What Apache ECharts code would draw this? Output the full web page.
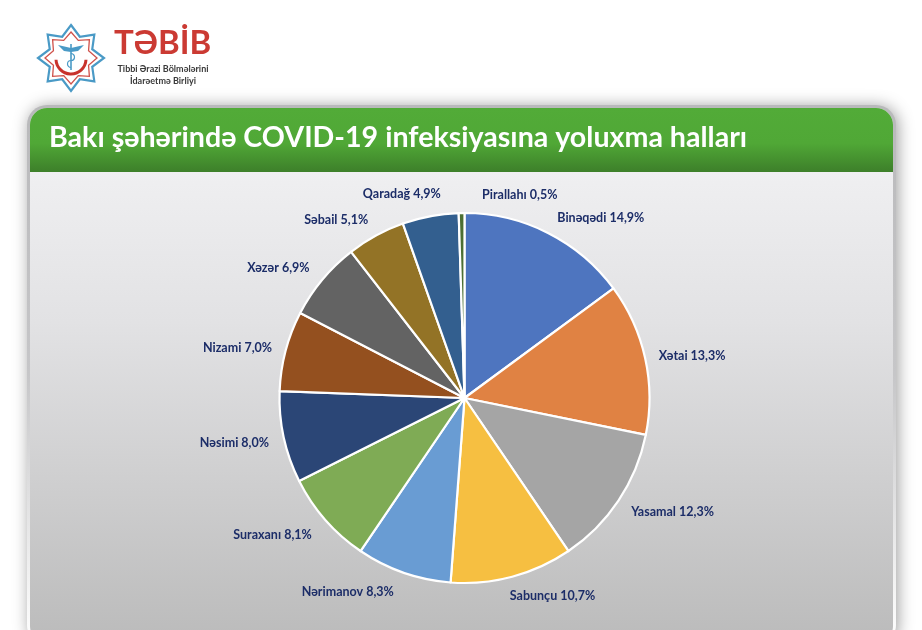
<!DOCTYPE html>
<html>
<head>
<meta charset="utf-8">
<title>Bakı şəhərində COVID-19 infeksiyasına yoluxma halları</title>
<style>html,body{margin:0;padding:0;background:#fff}#chart{width:922px;height:630px}</style>
<script src="https://cdn.jsdelivr.net/npm/echarts@6/dist/echarts.min.js"></script>
</head>
<body>
<div id="chart"></div>
<script>
const districts = ['Binəqədi','Xətai','Yasamal','Sabunçu','Nərimanov','Suraxanı','Nəsimi','Nizami','Xəzər','Səbail','Qaradağ','Pirallahı'];
const shares = [14.9,13.3,12.3,10.7,8.3,8.1,8.0,7.0,6.9,5.1,4.9,0.5];
const sliceColors = ['#4e75bf','#e08243','#a5a5a5','#f6bf41','#699cd3','#7fab55','#2b4676','#94501f','#636363','#937326','#335f8f','#4c6f33'];
const heading = 'Bakı şəhərində COVID-19 infeksiyasına yoluxma halları';
const brand = 'TƏBİB';
const brandLines = ['Tibbi Ərazi Bölmələrini','İdarəetmə Birliyi'];

// Small hand placement of each label away from its default outside spot
const labelNudgeX = [3,0,1,-6,-5,-3,-1,0,-2,-1,13,96];
const labelNudgeY = [-2,1,4,6,6,6,3,1,-3,-3,-8,-4];

const FONT = 'Lato, "Open Sans", sans-serif';

// Eight-pointed star outline around the emblem centre
function star(cx, cy, outer, inner, points) {
  const out = [];
  for (let i = 0; i < points * 2; i++) {
    const r = i % 2 ? inner : outer;
    const a = -Math.PI / 2 + i * Math.PI / points;
    out.push([cx + r * Math.cos(a), cy + r * Math.sin(a)]);
  }
  return out;
}

const EX = 71, EY = 58;
const emblem = [
  {type:'polygon',shape:{points:star(EX,EY,33,23,8)},style:{fill:'#fff',stroke:'#4a9ac6',lineWidth:2.2}},
  {type:'polygon',shape:{points:star(EX,EY,26,19,8)},style:{fill:'#fff',stroke:'#d0524b',lineWidth:1.3}},
  {type:'arc',shape:{cx:EX,cy:EY+1,r:15,startAngle:0.05,endAngle:Math.PI-0.05},style:{fill:'none',stroke:'#c8322c',lineWidth:3}},
  {type:'line',shape:{x1:EX,y1:EY-14,x2:EX,y2:EY+12},style:{stroke:'#4a9ac6',lineWidth:1.6}},
  {type:'polygon',shape:{points:[[EX-13,EY-13],[EX,EY-10],[EX+13,EY-13],[EX+7,EY-7],[EX,EY-6],[EX-7,EY-7]]},style:{fill:'#4a9ac6'}},
  {type:'arc',shape:{cx:EX,cy:EY-1,r:3.5,startAngle:-1.6,endAngle:1.6},style:{fill:'none',stroke:'#4a9ac6',lineWidth:1.2}},
  {type:'arc',shape:{cx:EX,cy:EY+6,r:3.5,startAngle:1.6,endAngle:4.7},style:{fill:'none',stroke:'#4a9ac6',lineWidth:1.2}}
];

const panel = [
  {type:'rect',shape:{x:27,y:105,width:869,height:540,r:20},
   style:{fill:new echarts.graphic.LinearGradient(0,0,0,1,[
     {offset:0,color:'#b9b9bb'},{offset:0.5,color:'#c6c6c8'},{offset:0.9,color:'#f4f4f4'},{offset:1,color:'#ffffff'}]),
     shadowBlur:16,shadowColor:'rgba(0,0,0,0.38)',shadowOffsetX:2,shadowOffsetY:1}},
  {type:'rect',shape:{x:30,y:108,width:863,height:534,r:[17,17,16,16]},
   style:{fill:new echarts.graphic.LinearGradient(0,0,0,1,[
     {offset:0,color:'#efeff1'},{offset:0.12,color:'#efeff1'},{offset:0.4,color:'#e2e2e4'},{offset:1,color:'#bbbbbb'}])}},
  {type:'rect',shape:{x:30,y:108,width:863,height:64,r:[17,17,0,0]},
   style:{fill:new echarts.graphic.LinearGradient(0,0,0,1,[
     {offset:0,color:'#52ab38'},{offset:0.55,color:'#50a836'},{offset:1,color:'#3d7f2a'}])}},
  {type:'text',style:{x:49,y:138,text:heading,fill:'#fff',font:'700 28.6px '+FONT,textVerticalAlign:'middle'}},
];

const logoText = [
  {type:'text',style:{x:114,y:43,text:brand,fill:'#cb3a33',font:'700 33px '+FONT,textVerticalAlign:'middle'}},
  {type:'text',style:{x:163,y:69,text:brandLines[0],fill:'#3a3a3a',font:'700 9px '+FONT,textAlign:'center',textVerticalAlign:'middle'}},
  {type:'text',style:{x:163,y:81,text:brandLines[1],fill:'#3a3a3a',font:'700 9px '+FONT,textAlign:'center',textVerticalAlign:'middle'}}
];

const chart = echarts.init(document.getElementById('chart'), null, {renderer:'canvas'});
chart.setOption({
  animation:false,
  backgroundColor:'#ffffff',
  graphic:{elements:[...emblem,...panel,...logoText]},
  series:[{
    type:'pie',
    center:[464.5,398],
    radius:[0,185],
    startAngle:90,
    clockwise:true,
    sort:null,
    avoidLabelOverlap:false,
    data:districts.map((name,i)=>({name,value:shares[i],itemStyle:{color:sliceColors[i]}})),
    itemStyle:{borderColor:'#ffffff',borderWidth:2.2},
    label:{
      show:true,position:'outside',
      formatter:p=>p.name+' '+shares[p.dataIndex].toFixed(1).replace('.',',')+'%',
      color:'#1c2d68',fontFamily:FONT,fontWeight:700,fontSize:12.5,
      alignTo:'none',distanceToLabelLine:0
    },
    labelLine:{show:false,length:14,length2:0},
    labelLayout:p=>({dx:labelNudgeX[p.dataIndex],dy:labelNudgeY[p.dataIndex],hideOverlap:false}),
    emphasis:{disabled:true}
  }]
});
</script>
</body>
</html>
